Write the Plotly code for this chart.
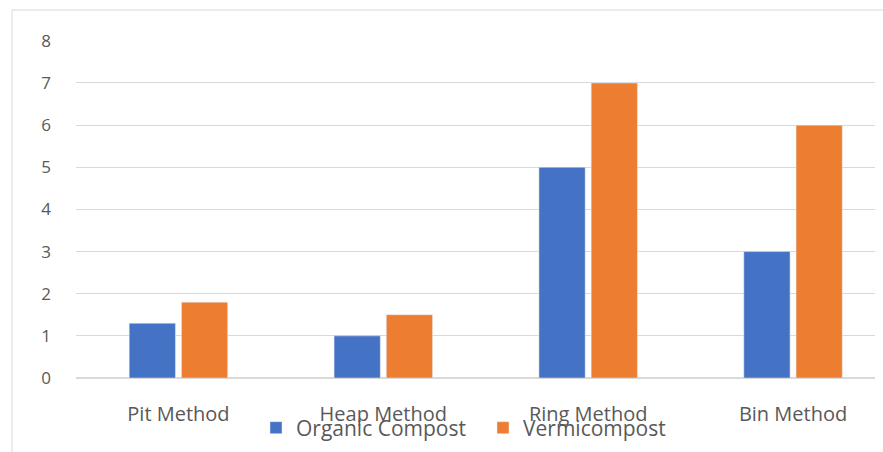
import plotly.graph_objects as go

categories = ["Pit Method", "Heap Method", "Ring Method", "Bin Method"]
organic = [1.3, 1.0, 5.0, 3.0]
vermi = [1.8, 1.5, 7.0, 6.0]
y_ticks = [0, 1, 2, 3, 4, 5, 6, 7, 8]

W, H = 883, 452
L, R, T, B = 76, 8, 40, 74
pw, ph = W - L - R, H - T - B

fig = go.Figure()
fig.add_trace(go.Bar(x=categories, y=organic, name="Organic Compost", marker_color="#4472C4"))
fig.add_trace(go.Bar(x=categories, y=vermi, name="Vermicompost", marker_color="#ED7D31"))

font = "Open Sans, Segoe UI, sans-serif"
fig.update_layout(
    width=W, height=H,
    margin=dict(l=L, r=R, t=T, b=B, autoexpand=False),
    paper_bgcolor="white", plot_bgcolor="white",
    barmode="group", bargap=0.49, bargroupgap=0.115,
    font=dict(family=font, color="#595959", size=16),
    showlegend=True,
    legend=dict(orientation="h", xref="container", x=(256) / W, xanchor="left",
                yref="container", y=1 - 428 / H, yanchor="middle",
                font=dict(size=21, color="#595959"),
                bgcolor="rgba(0,0,0,0)", itemwidth=30, entrywidth=182),
    xaxis=dict(range=[-0.5, 3.4], showgrid=False, showline=False, ticks="",
               ticklabelstandoff=22, tickfont=dict(size=20), automargin=False),
    yaxis=dict(range=[0, 8.02], tickvals=y_ticks, showgrid=True, gridcolor="#d9d9d9",
               zeroline=True, zerolinecolor="#d9d9d9", showline=False, ticks="",
               ticklabelstandoff=24, tickfont=dict(size=17), automargin=False),
    shapes=[dict(type="rect", xref="paper", yref="paper",
                 x0=(12 - L) / pw, x1=(W + 10 - L) / pw,
                 y0=(378 - (H + 10)) / ph, y1=(378 - 10) / ph,
                 line=dict(color="#d9d9d9", width=1), fillcolor="rgba(0,0,0,0)", layer="below")],
)
fig.write_html("out.html")
